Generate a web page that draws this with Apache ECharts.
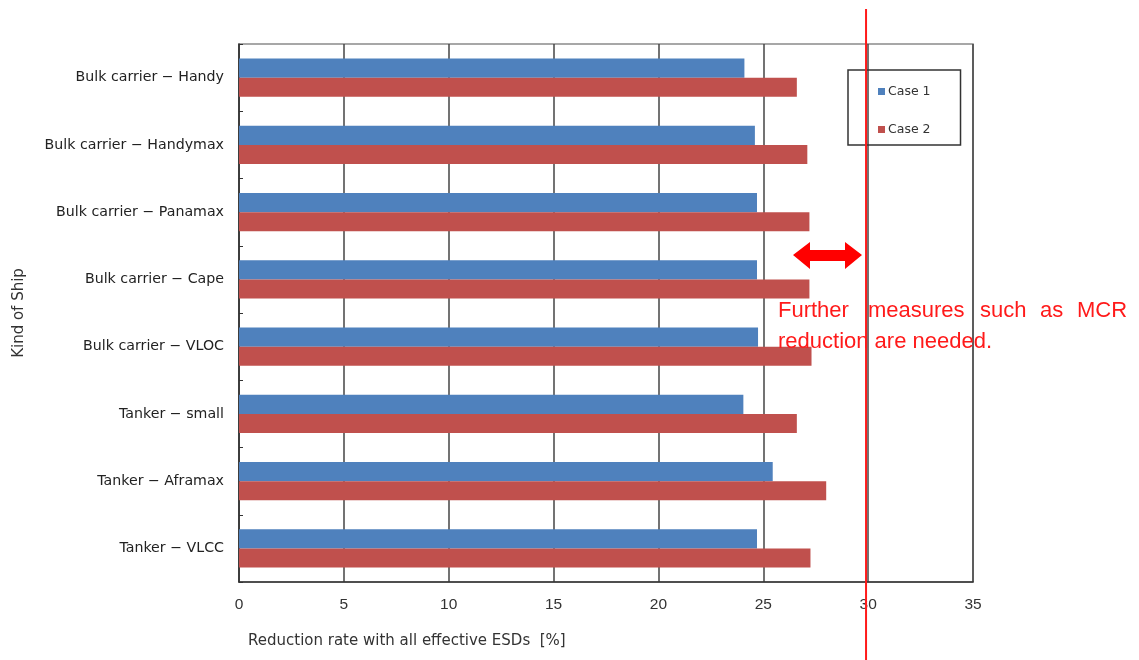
<!DOCTYPE html>
<html>
<head>
<meta charset="utf-8">
<script src="https://cdn.jsdelivr.net/npm/echarts@6/dist/echarts.min.js"></script>
<style>
html,body{margin:0;padding:0;background:#fff;}
#c{width:1139px;height:660px;}
</style>
</head>
<body>
<div id="c"></div>
<script>
const categories = [
  'Bulk carrier − Handy',
  'Bulk carrier − Handymax',
  'Bulk carrier − Panamax',
  'Bulk carrier − Cape',
  'Bulk carrier − VLOC',
  'Tanker − small',
  'Tanker − Aframax',
  'Tanker − VLCC'
];
const case1 = [24.1, 24.6, 24.7, 24.7, 24.75, 24.05, 25.45, 24.7];
const case2 = [26.6, 27.1, 27.2, 27.2, 27.3, 26.6, 28.0, 27.25];
const targetLine = 29.9;
const xTicks = { min: 0, max: 35, interval: 5 };

const FONT = '"Liberation Sans", Arial, sans-serif';
const WFONT = '"DejaVu Sans", sans-serif';
const chart = echarts.init(document.getElementById('c'));

chart.setOption({
  animation: false,
  backgroundColor: '#fff',
  grid: {
    left: 239, right: 166, top: 44, bottom: 78,
    containLabel: false,
    outerBoundsMode: 'none',
    show: true, borderColor: '#8a8a8a', borderWidth: 1.5, backgroundColor: 'transparent'
  },
  legend: {
    data: ['Case 1', 'Case 2'],
    orient: 'vertical',
    left: 848, top: 70,
    padding: [15, 30, 9, 30],
    itemWidth: 7, itemHeight: 7, itemGap: 25,
    borderColor: '#333', borderWidth: 1.5,
    icon: 'rect',
    textStyle: { fontFamily: WFONT, fontSize: 12.5, color: '#333', padding: [0, 0, 0, -2] }
  },
  xAxis: {
    type: 'value',
    min: xTicks.min, max: xTicks.max, interval: xTicks.interval,
    axisLine: { show: true, lineStyle: { color: '#333', width: 1.5 } },
    axisTick: { show: false },
    axisLabel: { fontFamily: FONT, fontSize: 15.5, color: '#333', margin: 15 },
    splitLine: { show: true, lineStyle: { color: '#444', width: 1.5 } }
  },
  yAxis: {
    type: 'category',
    data: categories,
    inverse: true,
    name: 'Kind of Ship',
    nameLocation: 'middle',
    nameGap: 212,
    nameRotate: 90,
    nameTextStyle: { fontFamily: WFONT, fontSize: 15, color: '#333' },
    axisLine: { show: true, lineStyle: { color: '#333', width: 1.5 } },
    axisTick: { show: true, inside: true, length: 4, lineStyle: { color: '#333' } },
    axisLabel: { fontFamily: WFONT, fontSize: 14.2, color: '#222', margin: 15 }
  },
  series: [
    { name: 'Case 1', type: 'bar', data: case1, barGap: '0%', barCategoryGap: '43%',
      itemStyle: { color: '#4F81BD' } },
    { name: 'Case 2', type: 'bar', data: case2, barGap: '0%', barCategoryGap: '43%',
      itemStyle: { color: '#C0504D' } }
  ]
});

const lx = chart.convertToPixel({ xAxisIndex: 0 }, targetLine);
const RED = '#ff1a1a';
const words = [
  ['Further', 778], ['measures', 868], ['such', 980], ['as', 1040], ['MCR', 1077]
];
const graphics = [
  { type: 'line', shape: { x1: lx, y1: 9, x2: lx, y2: 660 },
    style: { stroke: RED, lineWidth: 2 }, z: 100 },
  { type: 'polygon', shape: { points: [
      [793, 255], [810, 242], [810, 250], [845, 250], [845, 242], [862, 255],
      [845, 269], [845, 261], [810, 261], [810, 269]
    ] }, style: { fill: '#ff0000' }, z: 100 },
  { type: 'text', x: 248, y: 641,
    style: { text: 'Reduction rate with all effective ESDs  [%]', font: '15px ' + WFONT, fill: '#333', textVerticalAlign: 'middle' } }
];
words.forEach(w => graphics.push({ type: 'text', x: w[1], y: 311, z: 101,
  style: { text: w[0], font: '22px ' + FONT, fill: RED, textVerticalAlign: 'middle' } }));
graphics.push({ type: 'text', x: 778, y: 342, z: 101,
  style: { text: 'reduction are needed.', font: '22px ' + FONT, fill: RED, textVerticalAlign: 'middle' } });

chart.setOption({ graphic: graphics });
</script>
</body>
</html>
